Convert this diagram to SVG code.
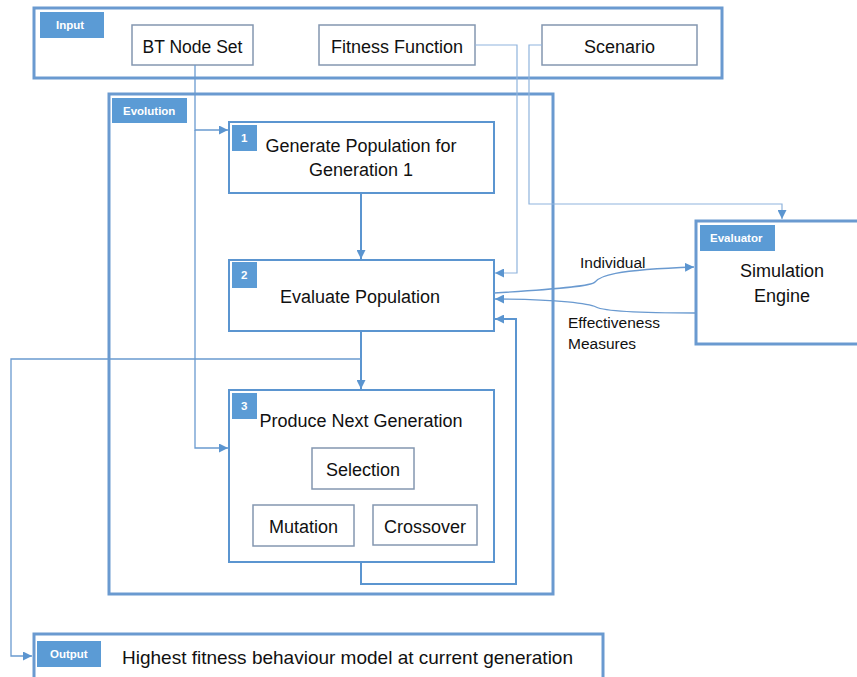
<svg xmlns="http://www.w3.org/2000/svg" width="857" height="677" viewBox="0 0 857 677">
<defs>
<style>
.frame{fill:#fff;stroke:#6a9ad0;stroke-width:3}
.step{fill:#fff;stroke:#5b95d0;stroke-width:2}
.inner{fill:#fff;stroke:#8497b0;stroke-width:1.5}
.tag{fill:#5b9bd5}
.tagt{font-family:"Liberation Sans",Arial,sans-serif;font-size:11.5px;font-weight:bold;fill:#fff}
.t{font-family:"Liberation Sans",Arial,sans-serif;font-size:18px;fill:#111;text-anchor:middle}
.s{font-family:"Liberation Sans",Arial,sans-serif;font-size:15.5px;fill:#111}
.thin{fill:none;stroke:#8fb4dd;stroke-width:1.2}
.mid{fill:none;stroke:#6a9ad0;stroke-width:1.3}
.thick{fill:none;stroke:#5b95d0;stroke-width:2}
</style>
<marker id="a" viewBox="0 0 10 10" refX="10" refY="5" markerWidth="9" markerHeight="9" markerUnits="userSpaceOnUse" orient="auto"><path d="M0,0L10,5L0,10z" fill="#5b95d0"/></marker>
</defs>

<g id="input">
<rect class="frame" x="34" y="8" width="688" height="70"/>
<rect class="tag" x="40" y="12" width="64" height="26"/>
<text class="tagt" x="56" y="29">Input</text>
</g>
<g id="bt-node-set">
<rect class="inner" x="132" y="25" width="121" height="40"/>
<text class="t" x="192.5" y="53" style="font-size:17.5px">BT Node Set</text>
</g>
<g id="fitness-function">
<rect class="inner" x="319" y="25" width="156" height="40"/>
<text class="t" x="397" y="53">Fitness Function</text>
</g>
<g id="scenario">
<rect class="inner" x="542" y="25" width="155" height="40"/>
<text class="t" x="619.5" y="53">Scenario</text>
</g>

<g id="evolution">
<rect class="frame" x="109" y="94" width="444" height="500"/>
<rect class="tag" x="112" y="98" width="75" height="25"/>
<text class="tagt" x="123" y="115">Evolution</text>
</g>

<g id="step1">
<rect class="step" x="229" y="122" width="265" height="71"/>
<rect class="tag" x="232" y="125" width="25" height="26"/>
<text class="tagt" x="241" y="142">1</text>
<text class="t" x="361" y="152">Generate Population for</text>
<text class="t" x="361" y="176">Generation 1</text>
</g>

<g id="step2">
<rect class="step" x="229" y="260" width="265" height="71"/>
<rect class="tag" x="232" y="262" width="25" height="26"/>
<text class="tagt" x="241" y="279">2</text>
<text class="t" x="360" y="303">Evaluate Population</text>
</g>

<g id="step3">
<rect class="step" x="229" y="390" width="265" height="172"/>
<rect class="tag" x="232" y="393" width="25" height="26"/>
<text class="tagt" x="241" y="410">3</text>
<text class="t" x="361" y="427">Produce Next Generation</text>
</g>
<g id="selection">
<rect class="inner" x="312" y="448" width="102" height="41"/>
<text class="t" x="363" y="476">Selection</text>
</g>
<g id="mutation">
<rect class="inner" x="253" y="505" width="101" height="41"/>
<text class="t" x="303.5" y="533">Mutation</text>
</g>
<g id="crossover">
<rect class="inner" x="373" y="505" width="104" height="40"/>
<text class="t" x="425" y="533">Crossover</text>
</g>

<g id="evaluator">
<rect class="frame" x="696" y="221" width="166" height="123"/>
<rect class="tag" x="700" y="225" width="75" height="26"/>
<text class="tagt" x="710" y="242">Evaluator</text>
<text class="t" x="782" y="277">Simulation</text>
<text class="t" x="782" y="302">Engine</text>
</g>

<g id="output">
<rect class="frame" x="34" y="634" width="569" height="46"/>
<rect class="tag" x="37" y="641" width="64" height="26"/>
<text class="tagt" x="50" y="658">Output</text>
<text class="t" x="347.5" y="664" style="font-size:19px">Highest fitness behaviour model at current generation</text>
</g>

<g id="connectors">
<path class="mid" d="M195,65V130H228" marker-end="url(#a)"/>
<path class="mid" d="M195,130V448H228" marker-end="url(#a)"/>
<path class="thin" d="M475,45H517V273H495" marker-end="url(#a)"/>
<path class="thin" d="M542,45H529V204H782V219" marker-end="url(#a)"/>
<path class="thick" d="M361,193V259" marker-end="url(#a)"/>
<path class="thick" d="M361,331V389" marker-end="url(#a)"/>
<path class="mid" d="M361,359H11V656H32" marker-end="url(#a)"/>
<path class="thick" d="M361,562V584H516V319H495" marker-end="url(#a)"/>
<path class="mid" d="M494,293C560,289 592,286 595,282C600,276 612,270 694,267" marker-end="url(#a)"/>
<path class="mid" d="M695,313C620,313 602,310 596,307C590,304 560,299 495,299" marker-end="url(#a)"/>
<text class="s" x="580" y="268">Individual</text>
<text class="s" x="568" y="328">Effectiveness</text>
<text class="s" x="568" y="349">Measures</text>
</g>
</svg>
